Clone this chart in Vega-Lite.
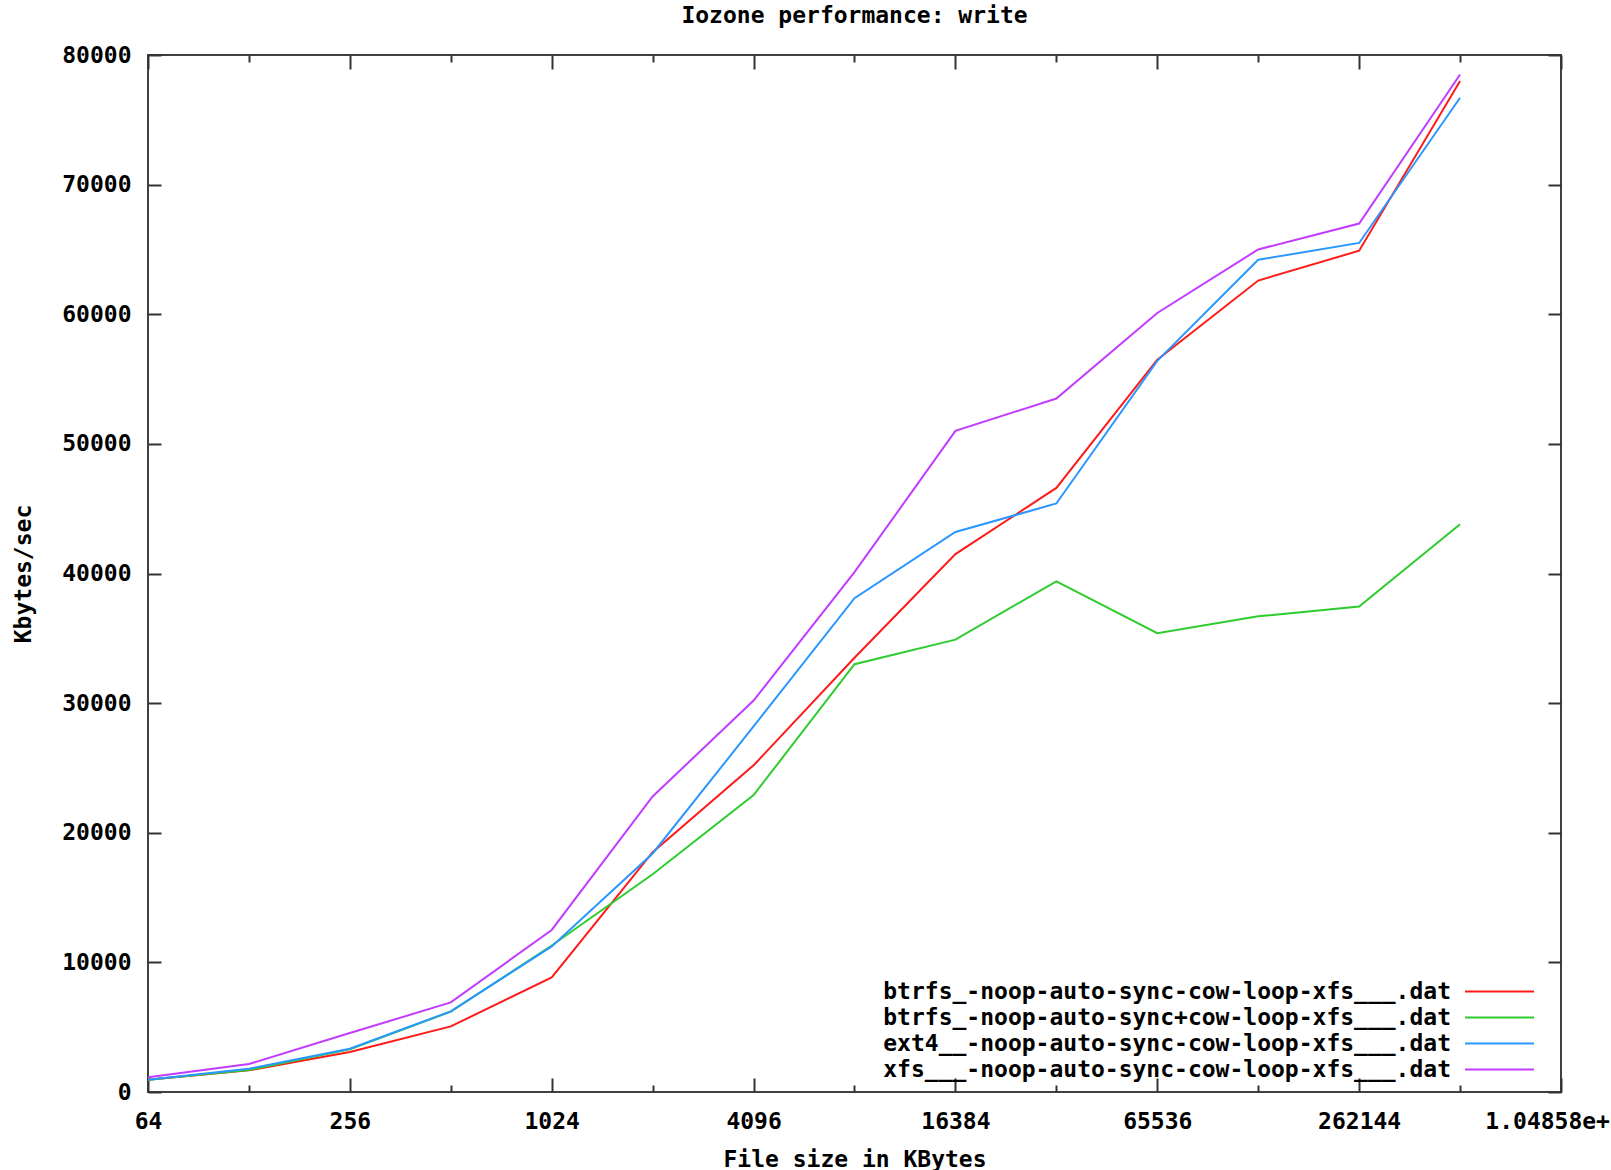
{
  "$schema": "https://vega.github.io/schema/vega-lite/v6.json",
  "autosize": {"type": "none"},
  "padding": {"left": 148, "top": 55, "right": 50, "bottom": 78},
  "width": 1413,
  "height": 1037,
  "background": "white",
  "title": {
    "text": "Iozone performance: write",
    "font": "DejaVu Sans Mono",
    "fontSize": 23,
    "fontWeight": "bold",
    "color": "#000000",
    "anchor": "middle",
    "offset": 16
  },
  "config": {
    "view": {"stroke": "#404040", "strokeWidth": 2},
    "font": "DejaVu Sans Mono"
  },
  "data": {
    "values": [
      {"size": 64, "kbps": 950, "series": "btrfs_-noop-auto-sync-cow-loop-xfs___.dat"},
      {"size": 128, "kbps": 1670, "series": "btrfs_-noop-auto-sync-cow-loop-xfs___.dat"},
      {"size": 256, "kbps": 3080, "series": "btrfs_-noop-auto-sync-cow-loop-xfs___.dat"},
      {"size": 512, "kbps": 5060, "series": "btrfs_-noop-auto-sync-cow-loop-xfs___.dat"},
      {"size": 1024, "kbps": 8840, "series": "btrfs_-noop-auto-sync-cow-loop-xfs___.dat"},
      {"size": 2048, "kbps": 18500, "series": "btrfs_-noop-auto-sync-cow-loop-xfs___.dat"},
      {"size": 4096, "kbps": 25200, "series": "btrfs_-noop-auto-sync-cow-loop-xfs___.dat"},
      {"size": 8192, "kbps": 33500, "series": "btrfs_-noop-auto-sync-cow-loop-xfs___.dat"},
      {"size": 16384, "kbps": 41500, "series": "btrfs_-noop-auto-sync-cow-loop-xfs___.dat"},
      {"size": 32768, "kbps": 46600, "series": "btrfs_-noop-auto-sync-cow-loop-xfs___.dat"},
      {"size": 65536, "kbps": 56500, "series": "btrfs_-noop-auto-sync-cow-loop-xfs___.dat"},
      {"size": 131072, "kbps": 62600, "series": "btrfs_-noop-auto-sync-cow-loop-xfs___.dat"},
      {"size": 262144, "kbps": 64900, "series": "btrfs_-noop-auto-sync-cow-loop-xfs___.dat"},
      {"size": 524288, "kbps": 78000, "series": "btrfs_-noop-auto-sync-cow-loop-xfs___.dat"},

      {"size": 64, "kbps": 950, "series": "btrfs_-noop-auto-sync+cow-loop-xfs___.dat"},
      {"size": 128, "kbps": 1700, "series": "btrfs_-noop-auto-sync+cow-loop-xfs___.dat"},
      {"size": 256, "kbps": 3300, "series": "btrfs_-noop-auto-sync+cow-loop-xfs___.dat"},
      {"size": 512, "kbps": 6200, "series": "btrfs_-noop-auto-sync+cow-loop-xfs___.dat"},
      {"size": 1024, "kbps": 11300, "series": "btrfs_-noop-auto-sync+cow-loop-xfs___.dat"},
      {"size": 2048, "kbps": 16800, "series": "btrfs_-noop-auto-sync+cow-loop-xfs___.dat"},
      {"size": 4096, "kbps": 22900, "series": "btrfs_-noop-auto-sync+cow-loop-xfs___.dat"},
      {"size": 8192, "kbps": 33000, "series": "btrfs_-noop-auto-sync+cow-loop-xfs___.dat"},
      {"size": 16384, "kbps": 34900, "series": "btrfs_-noop-auto-sync+cow-loop-xfs___.dat"},
      {"size": 32768, "kbps": 39400, "series": "btrfs_-noop-auto-sync+cow-loop-xfs___.dat"},
      {"size": 65536, "kbps": 35400, "series": "btrfs_-noop-auto-sync+cow-loop-xfs___.dat"},
      {"size": 131072, "kbps": 36700, "series": "btrfs_-noop-auto-sync+cow-loop-xfs___.dat"},
      {"size": 262144, "kbps": 37450, "series": "btrfs_-noop-auto-sync+cow-loop-xfs___.dat"},
      {"size": 524288, "kbps": 43800, "series": "btrfs_-noop-auto-sync+cow-loop-xfs___.dat"},

      {"size": 64, "kbps": 950, "series": "ext4__-noop-auto-sync-cow-loop-xfs___.dat"},
      {"size": 128, "kbps": 1800, "series": "ext4__-noop-auto-sync-cow-loop-xfs___.dat"},
      {"size": 256, "kbps": 3340, "series": "ext4__-noop-auto-sync-cow-loop-xfs___.dat"},
      {"size": 512, "kbps": 6220, "series": "ext4__-noop-auto-sync-cow-loop-xfs___.dat"},
      {"size": 1024, "kbps": 11230, "series": "ext4__-noop-auto-sync-cow-loop-xfs___.dat"},
      {"size": 2048, "kbps": 18400, "series": "ext4__-noop-auto-sync-cow-loop-xfs___.dat"},
      {"size": 4096, "kbps": 28200, "series": "ext4__-noop-auto-sync-cow-loop-xfs___.dat"},
      {"size": 8192, "kbps": 38100, "series": "ext4__-noop-auto-sync-cow-loop-xfs___.dat"},
      {"size": 16384, "kbps": 43200, "series": "ext4__-noop-auto-sync-cow-loop-xfs___.dat"},
      {"size": 32768, "kbps": 45400, "series": "ext4__-noop-auto-sync-cow-loop-xfs___.dat"},
      {"size": 65536, "kbps": 56400, "series": "ext4__-noop-auto-sync-cow-loop-xfs___.dat"},
      {"size": 131072, "kbps": 64200, "series": "ext4__-noop-auto-sync-cow-loop-xfs___.dat"},
      {"size": 262144, "kbps": 65500, "series": "ext4__-noop-auto-sync-cow-loop-xfs___.dat"},
      {"size": 524288, "kbps": 76700, "series": "ext4__-noop-auto-sync-cow-loop-xfs___.dat"},

      {"size": 64, "kbps": 1130, "series": "xfs___-noop-auto-sync-cow-loop-xfs___.dat"},
      {"size": 128, "kbps": 2160, "series": "xfs___-noop-auto-sync-cow-loop-xfs___.dat"},
      {"size": 256, "kbps": 4550, "series": "xfs___-noop-auto-sync-cow-loop-xfs___.dat"},
      {"size": 512, "kbps": 6910, "series": "xfs___-noop-auto-sync-cow-loop-xfs___.dat"},
      {"size": 1024, "kbps": 12500, "series": "xfs___-noop-auto-sync-cow-loop-xfs___.dat"},
      {"size": 2048, "kbps": 22800, "series": "xfs___-noop-auto-sync-cow-loop-xfs___.dat"},
      {"size": 4096, "kbps": 30200, "series": "xfs___-noop-auto-sync-cow-loop-xfs___.dat"},
      {"size": 8192, "kbps": 40100, "series": "xfs___-noop-auto-sync-cow-loop-xfs___.dat"},
      {"size": 16384, "kbps": 51000, "series": "xfs___-noop-auto-sync-cow-loop-xfs___.dat"},
      {"size": 32768, "kbps": 53500, "series": "xfs___-noop-auto-sync-cow-loop-xfs___.dat"},
      {"size": 65536, "kbps": 60100, "series": "xfs___-noop-auto-sync-cow-loop-xfs___.dat"},
      {"size": 131072, "kbps": 65000, "series": "xfs___-noop-auto-sync-cow-loop-xfs___.dat"},
      {"size": 262144, "kbps": 67000, "series": "xfs___-noop-auto-sync-cow-loop-xfs___.dat"},
      {"size": 524288, "kbps": 78500, "series": "xfs___-noop-auto-sync-cow-loop-xfs___.dat"}
    ]
  },
  "layer": [
    {
      "mark": {"type": "line", "strokeWidth": 2, "clip": true},
      "encoding": {
        "x": {
          "field": "size",
          "type": "quantitative",
          "scale": {"type": "log", "base": 2, "domain": [64, 1048576], "nice": false},
          "axis": {
            "orient": "bottom",
            "values": [64, 128, 256, 512, 1024, 2048, 4096, 8192, 16384, 32768, 65536, 131072, 262144, 524288, 1048576],
            "labelExpr": "datum.value == 1048576 ? '1.04858e+06' : (indexof([64, 256, 1024, 4096, 16384, 65536, 262144], datum.value) >= 0 ? format(datum.value, 'd') : '')",
            "tickSize": {"condition": {"test": "indexof([64, 256, 1024, 4096, 16384, 65536, 262144, 1048576], datum.value) >= 0", "value": -14}, "value": -7},
            "tickColor": "#333333",
            "tickWidth": 2,
            "domain": false,
            "grid": false,
            "labelFont": "DejaVu Sans Mono",
            "labelFontSize": 23,
            "labelFontWeight": "bold",
            "labelColor": "#000000",
            "labelPadding": 32,
            "labelOverlap": false,
            "labelFlush": false,
            "labelBound": false,
            "labelLimit": 0,
            "title": "File size in KBytes",
            "titleFont": "DejaVu Sans Mono",
            "titleFontSize": 23,
            "titleFontWeight": "bold",
            "titleColor": "#000000",
            "titlePadding": 8
          }
        },
        "y": {
          "field": "kbps",
          "type": "quantitative",
          "scale": {"domain": [0, 80000], "nice": false},
          "axis": {
            "orient": "left",
            "values": [0, 10000, 20000, 30000, 40000, 50000, 60000, 70000, 80000],
            "format": "d",
            "tickSize": -13,
            "tickColor": "#333333",
            "tickWidth": 2,
            "domain": false,
            "grid": false,
            "labelFont": "DejaVu Sans Mono",
            "labelFontSize": 23,
            "labelFontWeight": "bold",
            "labelColor": "#000000",
            "labelPadding": 30,
            "labelFlush": false,
            "labelBound": false,
            "labelOverlap": false,
            "title": "Kbytes/sec",
            "titleFont": "DejaVu Sans Mono",
            "titleFontSize": 23,
            "titleFontWeight": "bold",
            "titleColor": "#000000",
            "titlePadding": 26
          }
        },
        "color": {
          "field": "series",
          "type": "nominal",
          "scale": {
            "domain": [
              "btrfs_-noop-auto-sync-cow-loop-xfs___.dat",
              "btrfs_-noop-auto-sync+cow-loop-xfs___.dat",
              "ext4__-noop-auto-sync-cow-loop-xfs___.dat",
              "xfs___-noop-auto-sync-cow-loop-xfs___.dat"
            ],
            "range": ["#ff1a1a", "#2ecc2e", "#2a96ff", "#c23cff"]
          },
          "legend": {
            "orient": "none",
            "legendX": 1339,
            "legendY": 924,
            "title": null,
            "padding": 0,
            "symbolType": "M-3,0H3",
            "symbolSize": 529,
            "symbolStrokeWidth": 2,
            "labelAlign": "right",
            "labelOffset": -61,
            "labelLimit": 0,
            "labelFont": "DejaVu Sans Mono",
            "labelFontSize": 23,
            "labelFontWeight": "bold",
            "labelColor": "#000000",
            "rowPadding": 1
          }
        }
      }
    },
    {
      "mark": {"type": "line", "strokeOpacity": 0},
      "encoding": {
        "x": {
          "field": "size",
          "type": "quantitative",
          "axis": {
            "orient": "top",
            "values": [64, 128, 256, 512, 1024, 2048, 4096, 8192, 16384, 32768, 65536, 131072, 262144, 524288, 1048576],
            "labels": false,
            "title": null,
            "tickSize": {"condition": {"test": "indexof([64, 256, 1024, 4096, 16384, 65536, 262144, 1048576], datum.value) >= 0", "value": -14}, "value": -7},
            "tickColor": "#333333",
            "tickWidth": 2,
            "domain": false,
            "grid": false
          }
        },
        "y": {
          "field": "kbps",
          "type": "quantitative",
          "axis": {
            "orient": "right",
            "values": [0, 10000, 20000, 30000, 40000, 50000, 60000, 70000, 80000],
            "labels": false,
            "title": null,
            "tickSize": -13,
            "tickColor": "#333333",
            "tickWidth": 2,
            "domain": false,
            "grid": false
          }
        },
        "detail": {"field": "series", "type": "nominal"}
      }
    }
  ],
  "resolve": {"axis": {"x": "independent", "y": "independent"}}
}
